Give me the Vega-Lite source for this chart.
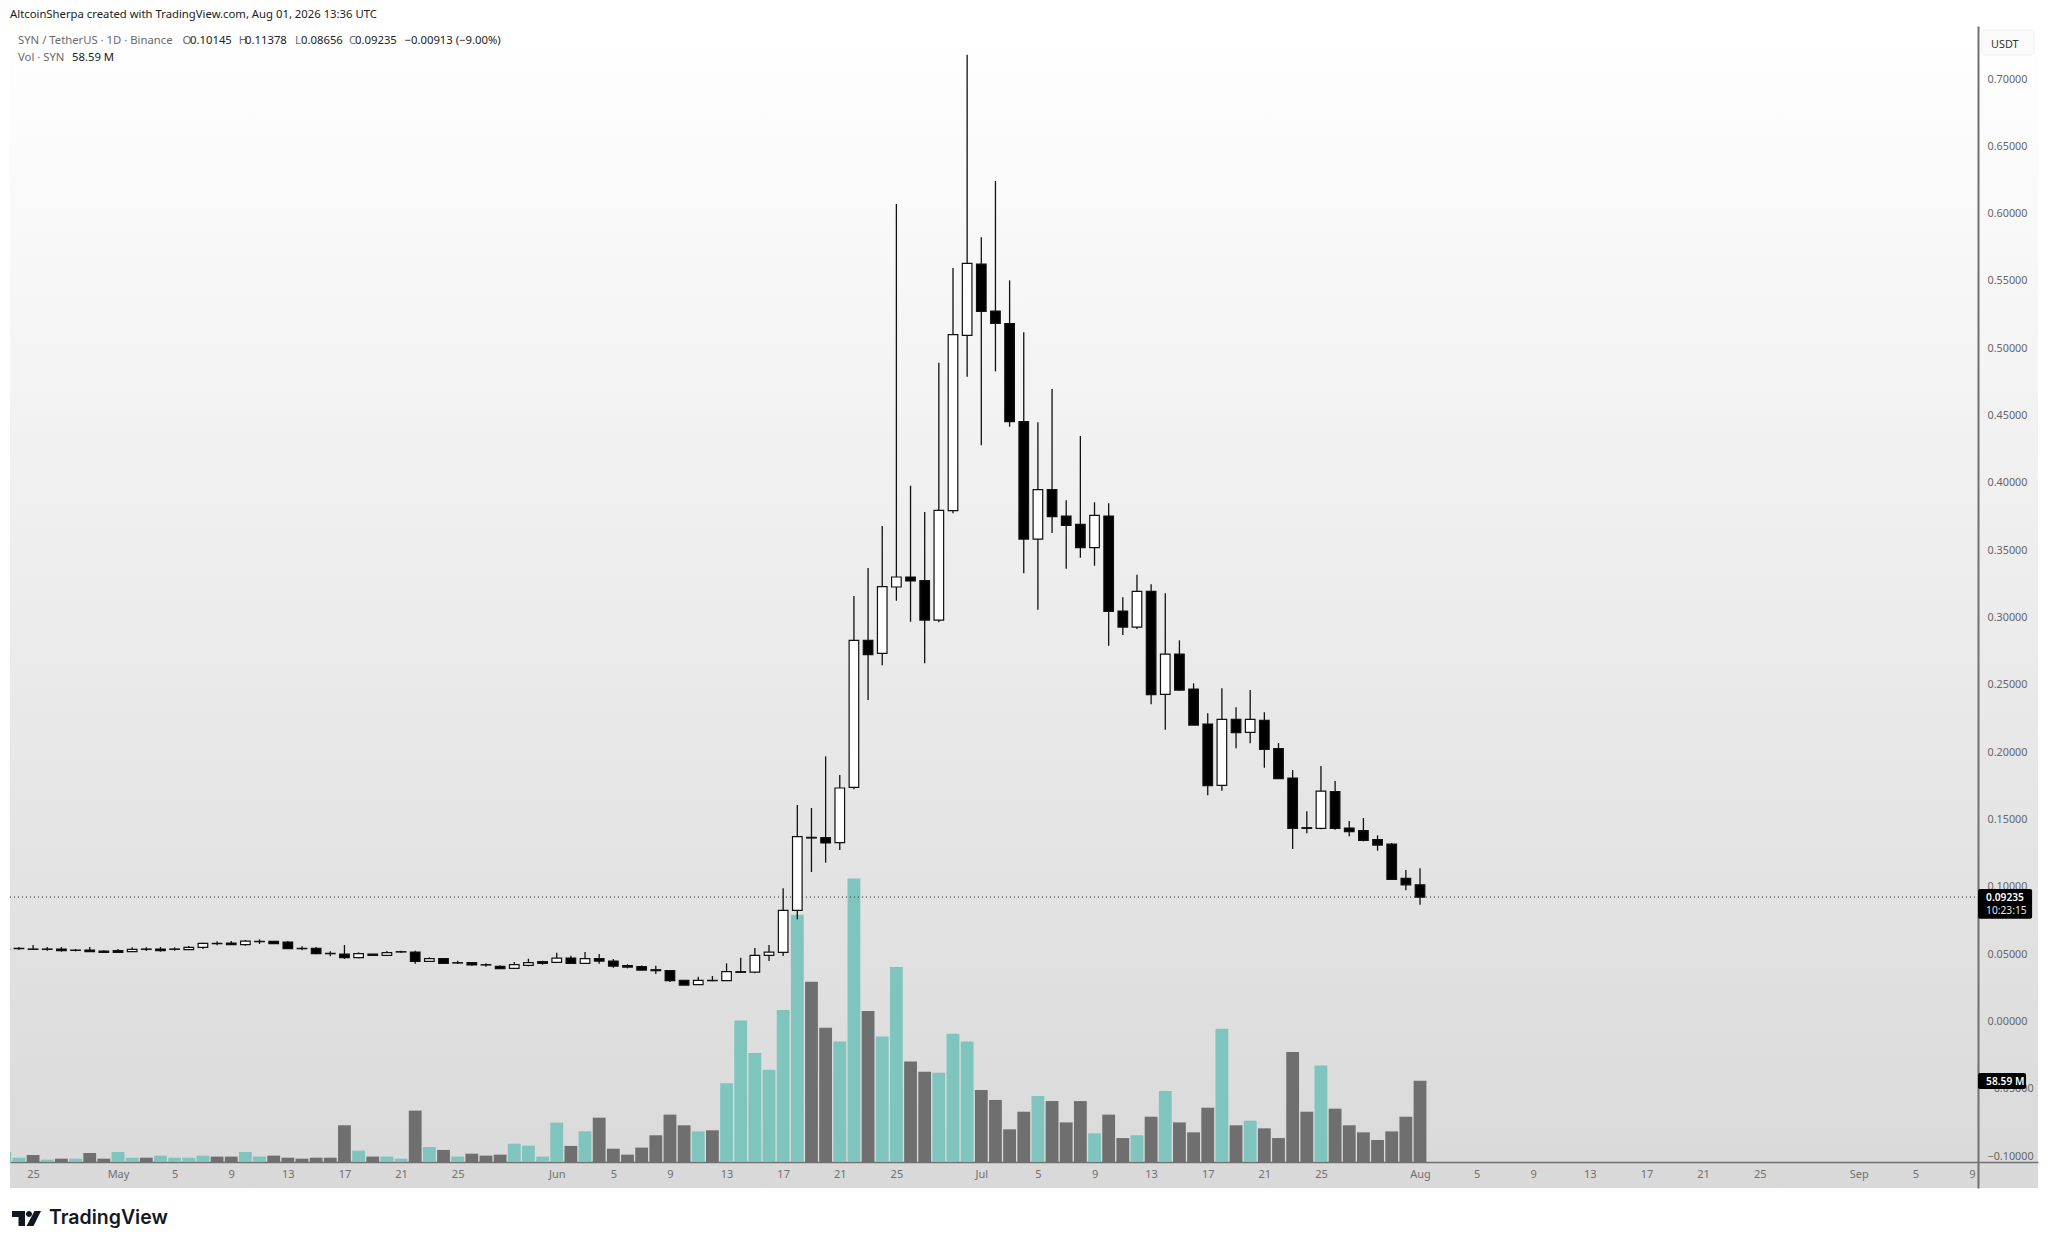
{"$schema":"https://vega.github.io/schema/vega-lite/v6.json","width":2028,"height":1162,"autosize":{"type":"none"},"padding":{"left":10,"top":26,"right":10,"bottom":60},"background":"#ffffff",
"view":{"stroke":null,"fill":{"gradient":"linear","x1":0,"y1":0,"x2":0,"y2":1,"stops":[{"offset":0,"color":"#ffffff"},{"offset":1,"color":"#d9d9d9"}]}},
"config":{"text":{"align":"left","baseline":"middle","font":"Noto Sans","fontSize":11.3,"color":"#222222"}},
"datasets":{"one":[{}],"ohlc":[
{"date":"2026-04-23","open":0.05302,"high":0.05425,"low":0.05277,"close":0.05401,"volume":7.2,"candle":"up","voldir":"up"},
{"date":"2026-04-24","open":0.05425,"high":0.05524,"low":0.05302,"close":0.05401,"volume":3.1,"candle":"down","voldir":"up"},
{"date":"2026-04-25","open":0.05376,"high":0.05673,"low":0.05302,"close":0.05351,"volume":5.1,"candle":"down","voldir":"down"},
{"date":"2026-04-26","open":0.05376,"high":0.05524,"low":0.05252,"close":0.05351,"volume":1.7,"candle":"down","voldir":"up"},
{"date":"2026-04-27","open":0.05376,"high":0.05524,"low":0.05178,"close":0.05252,"volume":2.4,"candle":"down","voldir":"down"},
{"date":"2026-04-28","open":0.05302,"high":0.05376,"low":0.05203,"close":0.05277,"volume":2.4,"candle":"down","voldir":"up"},
{"date":"2026-04-29","open":0.05302,"high":0.05524,"low":0.05178,"close":0.05178,"volume":6.5,"candle":"down","voldir":"down"},
{"date":"2026-04-30","open":0.05227,"high":0.05302,"low":0.05104,"close":0.05128,"volume":2.4,"candle":"down","voldir":"down"},
{"date":"2026-05-01","open":0.05252,"high":0.05376,"low":0.05079,"close":0.05128,"volume":7.2,"candle":"down","voldir":"up"},
{"date":"2026-05-02","open":0.05178,"high":0.055,"low":0.05153,"close":0.05351,"volume":3.1,"candle":"up","voldir":"up"},
{"date":"2026-05-03","open":0.05376,"high":0.055,"low":0.05227,"close":0.05351,"volume":3.1,"candle":"down","voldir":"down"},
{"date":"2026-05-04","open":0.05376,"high":0.05524,"low":0.05178,"close":0.05252,"volume":4.6,"candle":"down","voldir":"up"},
{"date":"2026-05-05","open":0.05376,"high":0.055,"low":0.05252,"close":0.05351,"volume":3.1,"candle":"down","voldir":"up"},
{"date":"2026-05-06","open":0.05326,"high":0.05599,"low":0.05302,"close":0.055,"volume":3.1,"candle":"up","voldir":"up"},
{"date":"2026-05-07","open":0.055,"high":0.05846,"low":0.05376,"close":0.05797,"volume":4.6,"candle":"up","voldir":"up"},
{"date":"2026-05-08","open":0.05797,"high":0.05945,"low":0.05648,"close":0.05772,"volume":3.9,"candle":"down","voldir":"down"},
{"date":"2026-05-09","open":0.05822,"high":0.0597,"low":0.05698,"close":0.05698,"volume":3.9,"candle":"down","voldir":"down"},
{"date":"2026-05-10","open":0.05698,"high":0.06044,"low":0.05623,"close":0.0597,"volume":7.2,"candle":"up","voldir":"up"},
{"date":"2026-05-11","open":0.05945,"high":0.06094,"low":0.05747,"close":0.05921,"volume":3.9,"candle":"down","voldir":"up"},
{"date":"2026-05-12","open":0.05945,"high":0.0597,"low":0.05747,"close":0.05772,"volume":4.6,"candle":"down","voldir":"down"},
{"date":"2026-05-13","open":0.05896,"high":0.0597,"low":0.05376,"close":0.05401,"volume":3.1,"candle":"down","voldir":"down"},
{"date":"2026-05-14","open":0.05425,"high":0.05574,"low":0.05277,"close":0.05401,"volume":2.4,"candle":"down","voldir":"down"},
{"date":"2026-05-15","open":0.05425,"high":0.05524,"low":0.0498,"close":0.05029,"volume":3.1,"candle":"down","voldir":"down"},
{"date":"2026-05-16","open":0.05054,"high":0.05203,"low":0.04831,"close":0.05029,"volume":3.1,"candle":"down","voldir":"down"},
{"date":"2026-05-17","open":0.05004,"high":0.05673,"low":0.04633,"close":0.04732,"volume":26.5,"candle":"down","voldir":"down"},
{"date":"2026-05-18","open":0.04732,"high":0.05128,"low":0.04683,"close":0.05029,"volume":8.2,"candle":"up","voldir":"up"},
{"date":"2026-05-19","open":0.05004,"high":0.05004,"low":0.04881,"close":0.04905,"volume":3.9,"candle":"down","voldir":"down"},
{"date":"2026-05-20","open":0.04905,"high":0.05227,"low":0.04881,"close":0.05104,"volume":3.9,"candle":"up","voldir":"up"},
{"date":"2026-05-21","open":0.05178,"high":0.05252,"low":0.05079,"close":0.05153,"volume":2.4,"candle":"down","voldir":"up"},
{"date":"2026-05-22","open":0.05153,"high":0.05252,"low":0.04287,"close":0.0446,"volume":37.1,"candle":"down","voldir":"down"},
{"date":"2026-05-23","open":0.0446,"high":0.04757,"low":0.0441,"close":0.04658,"volume":10.8,"candle":"up","voldir":"up"},
{"date":"2026-05-24","open":0.04658,"high":0.04683,"low":0.04287,"close":0.04311,"volume":8.7,"candle":"down","voldir":"down"},
{"date":"2026-05-25","open":0.04361,"high":0.04509,"low":0.04262,"close":0.04336,"volume":3.9,"candle":"down","voldir":"up"},
{"date":"2026-05-26","open":0.04361,"high":0.04386,"low":0.04138,"close":0.04188,"volume":6.0,"candle":"down","voldir":"down"},
{"date":"2026-05-27","open":0.04212,"high":0.04311,"low":0.04064,"close":0.04188,"volume":4.6,"candle":"down","voldir":"down"},
{"date":"2026-05-28","open":0.04088,"high":0.04163,"low":0.0389,"close":0.03915,"volume":5.3,"candle":"down","voldir":"down"},
{"date":"2026-05-29","open":0.03939,"high":0.0441,"low":0.03914,"close":0.04212,"volume":13.2,"candle":"up","voldir":"up"},
{"date":"2026-05-30","open":0.04162,"high":0.04657,"low":0.04088,"close":0.0436,"volume":11.8,"candle":"up","voldir":"up"},
{"date":"2026-05-31","open":0.04435,"high":0.04509,"low":0.04212,"close":0.04311,"volume":3.9,"candle":"down","voldir":"up"},
{"date":"2026-06-01","open":0.04385,"high":0.05103,"low":0.04335,"close":0.04707,"volume":28.4,"candle":"up","voldir":"up"},
{"date":"2026-06-02","open":0.04707,"high":0.0488,"low":0.04286,"close":0.04311,"volume":11.6,"candle":"down","voldir":"down"},
{"date":"2026-06-03","open":0.04311,"high":0.05152,"low":0.04261,"close":0.04657,"volume":22.1,"candle":"up","voldir":"up"},
{"date":"2026-06-04","open":0.04657,"high":0.05004,"low":0.04286,"close":0.04484,"volume":32.0,"candle":"down","voldir":"down"},
{"date":"2026-06-05","open":0.04484,"high":0.04632,"low":0.03989,"close":0.04113,"volume":9.6,"candle":"down","voldir":"down"},
{"date":"2026-06-06","open":0.04137,"high":0.04237,"low":0.03939,"close":0.04038,"volume":5.3,"candle":"down","voldir":"down"},
{"date":"2026-06-07","open":0.04063,"high":0.04162,"low":0.03791,"close":0.03815,"volume":10.4,"candle":"down","voldir":"down"},
{"date":"2026-06-08","open":0.0384,"high":0.04137,"low":0.03518,"close":0.03766,"volume":19.3,"candle":"down","voldir":"down"},
{"date":"2026-06-09","open":0.03766,"high":0.03791,"low":0.02924,"close":0.03023,"volume":34.2,"candle":"down","voldir":"down"},
{"date":"2026-06-10","open":0.03048,"high":0.03048,"low":0.02701,"close":0.02701,"volume":26.5,"candle":"down","voldir":"down"},
{"date":"2026-06-11","open":0.02726,"high":0.0332,"low":0.02726,"close":0.03048,"volume":22.1,"candle":"up","voldir":"up"},
{"date":"2026-06-12","open":0.03048,"high":0.0337,"low":0.02974,"close":0.03023,"volume":22.9,"candle":"down","voldir":"down"},
{"date":"2026-06-13","open":0.03023,"high":0.04311,"low":0.02998,"close":0.03692,"volume":56.8,"candle":"up","voldir":"up"},
{"date":"2026-06-14","open":0.03692,"high":0.04732,"low":0.03617,"close":0.03642,"volume":102.1,"candle":"down","voldir":"up"},
{"date":"2026-06-15","open":0.03667,"high":0.0545,"low":0.03568,"close":0.04905,"volume":78.7,"candle":"up","voldir":"up"},
{"date":"2026-06-16","open":0.04905,"high":0.05673,"low":0.04484,"close":0.05152,"volume":66.7,"candle":"up","voldir":"up"},
{"date":"2026-06-17","open":0.05128,"high":0.09882,"low":0.04855,"close":0.08247,"volume":109.8,"candle":"up","voldir":"up"},
{"date":"2026-06-18","open":0.08248,"high":0.16073,"low":0.0758,"close":0.1372,"volume":178.6,"candle":"up","voldir":"up"},
{"date":"2026-06-19","open":0.13671,"high":0.1585,"low":0.11097,"close":0.13621,"volume":130.2,"candle":"down","voldir":"down"},
{"date":"2026-06-20","open":0.13646,"high":0.19688,"low":0.11789,"close":0.1325,"volume":97.0,"candle":"down","voldir":"down"},
{"date":"2026-06-21","open":0.13275,"high":0.18302,"low":0.1273,"close":0.17336,"volume":87.1,"candle":"up","voldir":"up"},
{"date":"2026-06-22","open":0.17385,"high":0.31597,"low":0.17236,"close":0.28304,"volume":204.8,"candle":"up","voldir":"up"},
{"date":"2026-06-23","open":0.28304,"high":0.33677,"low":0.23872,"close":0.27239,"volume":109.0,"candle":"down","voldir":"down"},
{"date":"2026-06-24","open":0.27338,"high":0.36797,"low":0.26447,"close":0.3229,"volume":90.7,"candle":"up","voldir":"up"},
{"date":"2026-06-25","open":0.32266,"high":0.60717,"low":0.3125,"close":0.33009,"volume":140.8,"candle":"up","voldir":"up"},
{"date":"2026-06-26","open":0.33009,"high":0.39792,"low":0.29691,"close":0.32711,"volume":72.5,"candle":"down","voldir":"down"},
{"date":"2026-06-27","open":0.32736,"high":0.37838,"low":0.26596,"close":0.29814,"volume":65.2,"candle":"down","voldir":"down"},
{"date":"2026-06-28","open":0.29814,"high":0.48929,"low":0.29641,"close":0.3796,"volume":64.5,"candle":"up","voldir":"up"},
{"date":"2026-06-29","open":0.37935,"high":0.5596,"low":0.37737,"close":0.51008,"volume":92.7,"candle":"up","voldir":"up"},
{"date":"2026-06-30","open":0.50958,"high":0.71807,"low":0.47889,"close":0.56307,"volume":87.1,"candle":"up","voldir":"up"},
{"date":"2026-07-01","open":0.56257,"high":0.58238,"low":0.42788,"close":0.52741,"volume":52.0,"candle":"down","voldir":"down"},
{"date":"2026-07-02","open":0.52766,"high":0.62423,"low":0.48285,"close":0.5185,"volume":44.8,"candle":"down","voldir":"down"},
{"date":"2026-07-03","open":0.51825,"high":0.55044,"low":0.44174,"close":0.44546,"volume":23.6,"candle":"down","voldir":"down"},
{"date":"2026-07-04","open":0.44546,"high":0.51182,"low":0.3328,"close":0.3583,"volume":36.3,"candle":"down","voldir":"down"},
{"date":"2026-07-05","open":0.3583,"high":0.44496,"low":0.30581,"close":0.39495,"volume":47.7,"candle":"up","voldir":"up"},
{"date":"2026-07-06","open":0.39495,"high":0.46972,"low":0.36276,"close":0.37489,"volume":44.0,"candle":"down","voldir":"down"},
{"date":"2026-07-07","open":0.37539,"high":0.38703,"low":0.33627,"close":0.36846,"volume":28.6,"candle":"down","voldir":"down"},
{"date":"2026-07-08","open":0.3692,"high":0.43481,"low":0.34444,"close":0.35187,"volume":44.0,"candle":"down","voldir":"down"},
{"date":"2026-07-09","open":0.35187,"high":0.38554,"low":0.3385,"close":0.37589,"volume":20.7,"candle":"up","voldir":"up"},
{"date":"2026-07-10","open":0.37539,"high":0.3848,"low":0.27907,"close":0.30458,"volume":34.2,"candle":"down","voldir":"down"},
{"date":"2026-07-11","open":0.30483,"high":0.31497,"low":0.287,"close":0.29294,"volume":17.3,"candle":"down","voldir":"down"},
{"date":"2026-07-12","open":0.29294,"high":0.33181,"low":0.29145,"close":0.31943,"volume":19.3,"candle":"up","voldir":"up"},
{"date":"2026-07-13","open":0.31943,"high":0.32463,"low":0.2355,"close":0.24268,"volume":32.7,"candle":"down","voldir":"down"},
{"date":"2026-07-14","open":0.24293,"high":0.31795,"low":0.21668,"close":0.27288,"volume":51.3,"candle":"up","voldir":"up"},
{"date":"2026-07-15","open":0.27288,"high":0.28304,"low":0.24565,"close":0.24614,"volume":28.6,"candle":"down","voldir":"down"},
{"date":"2026-07-16","open":0.24689,"high":0.25109,"low":0.22014,"close":0.22014,"volume":21.4,"candle":"down","voldir":"down"},
{"date":"2026-07-17","open":0.22089,"high":0.22881,"low":0.1679,"close":0.17508,"volume":39.2,"candle":"down","voldir":"down"},
{"date":"2026-07-18","open":0.17533,"high":0.24738,"low":0.17137,"close":0.22436,"volume":96.3,"candle":"up","voldir":"up"},
{"date":"2026-07-19","open":0.22436,"high":0.23327,"low":0.20281,"close":0.21445,"volume":26.5,"candle":"down","voldir":"down"},
{"date":"2026-07-20","open":0.2147,"high":0.24614,"low":0.20653,"close":0.22436,"volume":29.8,"candle":"up","voldir":"up"},
{"date":"2026-07-21","open":0.22361,"high":0.22955,"low":0.18845,"close":0.20207,"volume":24.3,"candle":"down","voldir":"down"},
{"date":"2026-07-22","open":0.20256,"high":0.20678,"low":0.18028,"close":0.18028,"volume":17.3,"candle":"down","voldir":"down"},
{"date":"2026-07-23","open":0.18078,"high":0.18672,"low":0.12804,"close":0.14339,"volume":79.4,"candle":"down","voldir":"down"},
{"date":"2026-07-24","open":0.14389,"high":0.15602,"low":0.13968,"close":0.14339,"volume":36.3,"candle":"down","voldir":"down"},
{"date":"2026-07-25","open":0.14339,"high":0.18969,"low":0.14265,"close":0.17112,"volume":69.6,"candle":"up","voldir":"up"},
{"date":"2026-07-26","open":0.17063,"high":0.17855,"low":0.1424,"close":0.14339,"volume":38.5,"candle":"down","voldir":"down"},
{"date":"2026-07-27","open":0.14364,"high":0.14884,"low":0.13745,"close":0.14091,"volume":26.5,"candle":"down","voldir":"down"},
{"date":"2026-07-28","open":0.14166,"high":0.15106,"low":0.13373,"close":0.13448,"volume":21.4,"candle":"down","voldir":"down"},
{"date":"2026-07-29","open":0.13497,"high":0.13819,"low":0.1268,"close":0.13101,"volume":15.9,"candle":"down","voldir":"down"},
{"date":"2026-07-30","open":0.13175,"high":0.13249,"low":0.10526,"close":0.10551,"volume":22.1,"candle":"down","voldir":"down"},
{"date":"2026-07-31","open":0.10625,"high":0.11244,"low":0.09734,"close":0.10145,"volume":32.7,"candle":"down","voldir":"down"},
{"date":"2026-08-01","open":0.10145,"high":0.11378,"low":0.08656,"close":0.09235,"volume":58.59,"candle":"down","voldir":"down"}
]},
"layer":[
{"layer":[
{"data":{"name":"ohlc"},"mark":{"type":"bar","size":12.8,"clip":true},"encoding":{
"x":{"field":"date","type":"temporal","title":null,"scale":{"type":"utc","padding":0,"domain":[{"year":2026,"month":4,"date":23,"hours":8,"minutes":50,"utc":true},{"year":2026,"month":9,"date":13,"hours":16,"utc":true}]},
"axis":{"orient":"bottom","offset":-26,"title":null,"values":[{"year":2026,"month":4,"date":25,"utc":true},{"year":2026,"month":5,"date":1,"utc":true},{"year":2026,"month":5,"date":5,"utc":true},{"year":2026,"month":5,"date":9,"utc":true},{"year":2026,"month":5,"date":13,"utc":true},{"year":2026,"month":5,"date":17,"utc":true},{"year":2026,"month":5,"date":21,"utc":true},{"year":2026,"month":5,"date":25,"utc":true},{"year":2026,"month":6,"date":1,"utc":true},{"year":2026,"month":6,"date":5,"utc":true},{"year":2026,"month":6,"date":9,"utc":true},{"year":2026,"month":6,"date":13,"utc":true},{"year":2026,"month":6,"date":17,"utc":true},{"year":2026,"month":6,"date":21,"utc":true},{"year":2026,"month":6,"date":25,"utc":true},{"year":2026,"month":7,"date":1,"utc":true},{"year":2026,"month":7,"date":5,"utc":true},{"year":2026,"month":7,"date":9,"utc":true},{"year":2026,"month":7,"date":13,"utc":true},{"year":2026,"month":7,"date":17,"utc":true},{"year":2026,"month":7,"date":21,"utc":true},{"year":2026,"month":7,"date":25,"utc":true},{"year":2026,"month":8,"date":1,"utc":true},{"year":2026,"month":8,"date":5,"utc":true},{"year":2026,"month":8,"date":9,"utc":true},{"year":2026,"month":8,"date":13,"utc":true},{"year":2026,"month":8,"date":17,"utc":true},{"year":2026,"month":8,"date":21,"utc":true},{"year":2026,"month":8,"date":25,"utc":true},{"year":2026,"month":9,"date":1,"utc":true},{"year":2026,"month":9,"date":5,"utc":true},{"year":2026,"month":9,"date":9,"utc":true}],
"labelExpr":"utcdate(datum.value)==1 ? utcFormat(datum.value,'%b') : utcFormat(datum.value,'%-d')","labelOverlap":false,"labelFlush":false,"labelBound":false,"grid":false,"ticks":false,"domainColor":"#707070","domainWidth":1.5,"labelColor":"#707070","labelFont":"Noto Sans","labelFontSize":11,"labelPadding":12,"labelBaseline":"middle","labelAngle":0}},
"y":{"field":"volume","type":"quantitative","stack":null,"title":null,"axis":null,"scale":{"domain":[-18.78,820.4],"nice":false,"zero":false}},
"color":{"field":"voldir","type":"nominal","legend":null,"scale":{"domain":["up","down"],"range":["#7fc4bd","#6f6f6f"]}}}}
]},
{"layer":[
{"data":{"name":"one"},"mark":{"type":"rule","color":"#222222","strokeWidth":1,"strokeDash":[1,3]},"encoding":{"y":{"datum":0.09235,"title":null,"scale":{"domain":[-0.12375,0.73938],"nice":false,"zero":false},
"axis":{"orient":"right","offset":-60,"title":null,"values":[-0.1,-0.05,0,0.05,0.1,0.15,0.2,0.25,0.3,0.35,0.4,0.45,0.5,0.55,0.6,0.65,0.7],"format":".5f","grid":false,"ticks":false,"domainColor":"#707070","domainWidth":2,"labelColor":"#666666","labelFont":"Noto Sans","labelFontSize":10.8,"labelPadding":9,"labelAlign":"left","labelBaseline":"middle","labelOverlap":false,"labelFlush":false,"labelBound":false}},
"x":{"datum":{"year":2026,"month":4,"date":23,"hours":8,"minutes":50,"utc":true},"type":"temporal","title":null},"x2":{"datum":{"year":2026,"month":9,"date":9,"hours":10,"minutes":19,"utc":true}}}},
{"data":{"name":"ohlc"},"mark":{"type":"rule","color":"#111111","strokeWidth":1.3,"clip":true},"encoding":{"x":{"field":"date","type":"temporal","title":null},"y":{"field":"low","type":"quantitative","title":null},"y2":{"field":"high"}}},
{"data":{"name":"ohlc"},"mark":{"type":"bar","orient":"vertical","size":9.6,"stroke":"#111111","strokeWidth":1.2,"clip":true},"encoding":{"x":{"field":"date","type":"temporal","title":null},"y":{"field":"open","type":"quantitative","title":null},"y2":{"field":"close"},"color":{"field":"candle","type":"nominal","legend":null,"scale":{"domain":["up","down"],"range":["#ffffff","#000000"]}}}},
{"data":{"name":"one"},"mark":{"type":"rect","fill":"#fbfbfb","stroke":"#eeeeee","cornerRadius":3},"encoding":{"x":{"datum":{"year":2026,"month":9,"date":9,"hours":17,"minutes":2,"utc":true},"type":"temporal","title":null},"x2":{"datum":{"year":2026,"month":9,"date":13,"hours":9,"minutes":22,"utc":true}},"y":{"datum":0.73641,"title":null},"y2":{"datum":0.71785}}},
{"data":{"name":"one"},"mark":{"type":"text","color":"#333333","fontSize":10.8},"encoding":{"x":{"datum":{"year":2026,"month":9,"date":10,"hours":8,"minutes":24,"utc":true},"type":"temporal","title":null},"y":{"datum":0.72561,"title":null},"text":{"value":"USDT"}}},
{"data":{"name":"one"},"mark":{"type":"rect","fill":"#000000","cornerRadius":2},"encoding":{"x":{"datum":{"year":2026,"month":9,"date":9,"hours":10,"minutes":19,"utc":true},"type":"temporal","title":null},"x2":{"datum":{"year":2026,"month":9,"date":13,"hours":6,"utc":true}},"y":{"datum":0.09835,"title":null},"y2":{"datum":0.07628}}},
{"data":{"name":"one"},"mark":{"type":"text","color":"#ffffff","fontWeight":600,"fontSize":10.2},"encoding":{"x":{"datum":{"year":2026,"month":9,"date":10,"utc":true},"type":"temporal","title":null},"y":{"datum":0.09166,"title":null},"text":{"value":"0.09235"}}},
{"data":{"name":"one"},"mark":{"type":"text","color":"#e6e6e6","fontSize":10.2},"encoding":{"x":{"datum":{"year":2026,"month":9,"date":10,"utc":true},"type":"temporal","title":null},"y":{"datum":0.08223,"title":null},"text":{"value":"10:23:15"}}},
{"data":{"name":"one"},"mark":{"type":"rect","fill":"#000000","cornerRadius":2},"encoding":{"x":{"datum":{"year":2026,"month":9,"date":9,"hours":10,"minutes":19,"utc":true},"type":"temporal","title":null},"x2":{"datum":{"year":2026,"month":9,"date":12,"hours":19,"minutes":41,"utc":true}},"y":{"datum":-0.03833,"title":null},"y2":{"datum":-0.05021}}},
{"data":{"name":"one"},"mark":{"type":"text","color":"#ffffff","fontWeight":600,"fontSize":10.2},"encoding":{"x":{"datum":{"year":2026,"month":9,"date":10,"utc":true},"type":"temporal","title":null},"y":{"datum":-0.04501,"title":null},"text":{"value":"58.59 M"}}},
{"data":{"name":"one"},"mark":{"type":"text","color":"#222222"},"encoding":{"x":{"datum":{"year":2026,"month":4,"date":23,"hours":8,"minutes":50,"utc":true},"type":"temporal","title":null},"y":{"datum":0.74756,"title":null},"text":{"value":"AltcoinSherpa created with TradingView.com, Aug 01, 2026 13:36 UTC"}}},
{"data":{"name":"one"},"mark":{"type":"text","color":"#6a6a6a"},"encoding":{"x":{"datum":{"year":2026,"month":4,"date":23,"hours":22,"minutes":25,"utc":true},"type":"temporal","title":null},"y":{"datum":0.72825,"title":null},"text":{"value":"SYN / TetherUS · 1D · Binance"}}},
{"data":{"name":"one"},"mark":{"type":"text","color":"#6a6a6a"},"encoding":{"x":{"datum":{"year":2026,"month":5,"date":5,"hours":13,"minutes":23,"utc":true},"type":"temporal","title":null},"y":{"datum":0.72825,"title":null},"text":{"value":"O"}}},
{"data":{"name":"one"},"mark":{"type":"text","color":"#222222"},"encoding":{"x":{"datum":{"year":2026,"month":5,"date":6,"hours":2,"minutes":7,"utc":true},"type":"temporal","title":null},"y":{"datum":0.72825,"title":null},"text":{"value":"0.10145"}}},
{"data":{"name":"one"},"mark":{"type":"text","color":"#6a6a6a"},"encoding":{"x":{"datum":{"year":2026,"month":5,"date":9,"hours":12,"minutes":52,"utc":true},"type":"temporal","title":null},"y":{"datum":0.72825,"title":null},"text":{"value":"H"}}},
{"data":{"name":"one"},"mark":{"type":"text","color":"#222222"},"encoding":{"x":{"datum":{"year":2026,"month":5,"date":9,"hours":23,"minutes":23,"utc":true},"type":"temporal","title":null},"y":{"datum":0.72825,"title":null},"text":{"value":"0.11378"}}},
{"data":{"name":"one"},"mark":{"type":"text","color":"#6a6a6a"},"encoding":{"x":{"datum":{"year":2026,"month":5,"date":13,"hours":12,"minutes":10,"utc":true},"type":"temporal","title":null},"y":{"datum":0.72825,"title":null},"text":{"value":"L"}}},
{"data":{"name":"one"},"mark":{"type":"text","color":"#222222"},"encoding":{"x":{"datum":{"year":2026,"month":5,"date":13,"hours":22,"minutes":21,"utc":true},"type":"temporal","title":null},"y":{"datum":0.72825,"title":null},"text":{"value":"0.08656"}}},
{"data":{"name":"one"},"mark":{"type":"text","color":"#6a6a6a"},"encoding":{"x":{"datum":{"year":2026,"month":5,"date":17,"hours":7,"minutes":45,"utc":true},"type":"temporal","title":null},"y":{"datum":0.72825,"title":null},"text":{"value":"C"}}},
{"data":{"name":"one"},"mark":{"type":"text","color":"#222222"},"encoding":{"x":{"datum":{"year":2026,"month":5,"date":17,"hours":17,"minutes":56,"utc":true},"type":"temporal","title":null},"y":{"datum":0.72825,"title":null},"text":{"value":"0.09235"}}},
{"data":{"name":"one"},"mark":{"type":"text","color":"#222222"},"encoding":{"x":{"datum":{"year":2026,"month":5,"date":21,"hours":5,"minutes":53,"utc":true},"type":"temporal","title":null},"y":{"datum":0.72825,"title":null},"text":{"value":"−0.00913 (−9.00%)"}}},
{"data":{"name":"one"},"mark":{"type":"text","color":"#6a6a6a"},"encoding":{"x":{"datum":{"year":2026,"month":4,"date":23,"hours":22,"minutes":25,"utc":true},"type":"temporal","title":null},"y":{"datum":0.71562,"title":null},"text":{"value":"Vol · SYN"}}},
{"data":{"name":"one"},"mark":{"type":"text","color":"#222222"},"encoding":{"x":{"datum":{"year":2026,"month":4,"date":27,"hours":18,"utc":true},"type":"temporal","title":null},"y":{"datum":0.71562,"title":null},"text":{"value":"58.59 M"}}},
{"data":{"name":"one"},"mark":{"type":"point","filled":true,"opacity":1,"color":"#131722","size":841,"strokeWidth":0,"shape":"M-1,-0.517 L-0.103,-0.517 L-0.103,0.517 L-0.552,0.517 L-0.552,-0.103 L-1,-0.103 Z M0.552,-0.517 L1,-0.517 L0.483,0.517 L0,0.517 Z M-0.035,-0.31 a0.207,0.207 0 1 0 0.414,0 a0.207,0.207 0 1 0 -0.414,0 Z"},"encoding":{"x":{"datum":{"year":2026,"month":4,"date":24,"hours":12,"minutes":49,"utc":true},"type":"temporal","title":null},"y":{"datum":-0.1464,"title":null}}},
{"data":{"name":"one"},"mark":{"type":"text","color":"#131722","font":"Inter","fontWeight":600,"fontSize":19.5},"encoding":{"x":{"datum":{"year":2026,"month":4,"date":26,"hours":2,"minutes":59,"utc":true},"type":"temporal","title":null},"y":{"datum":-0.1464,"title":null},"text":{"value":"TradingView"}}}
]}
],
"resolve":{"scale":{"y":"independent","color":"independent"},"axis":{"y":"independent"}}}
